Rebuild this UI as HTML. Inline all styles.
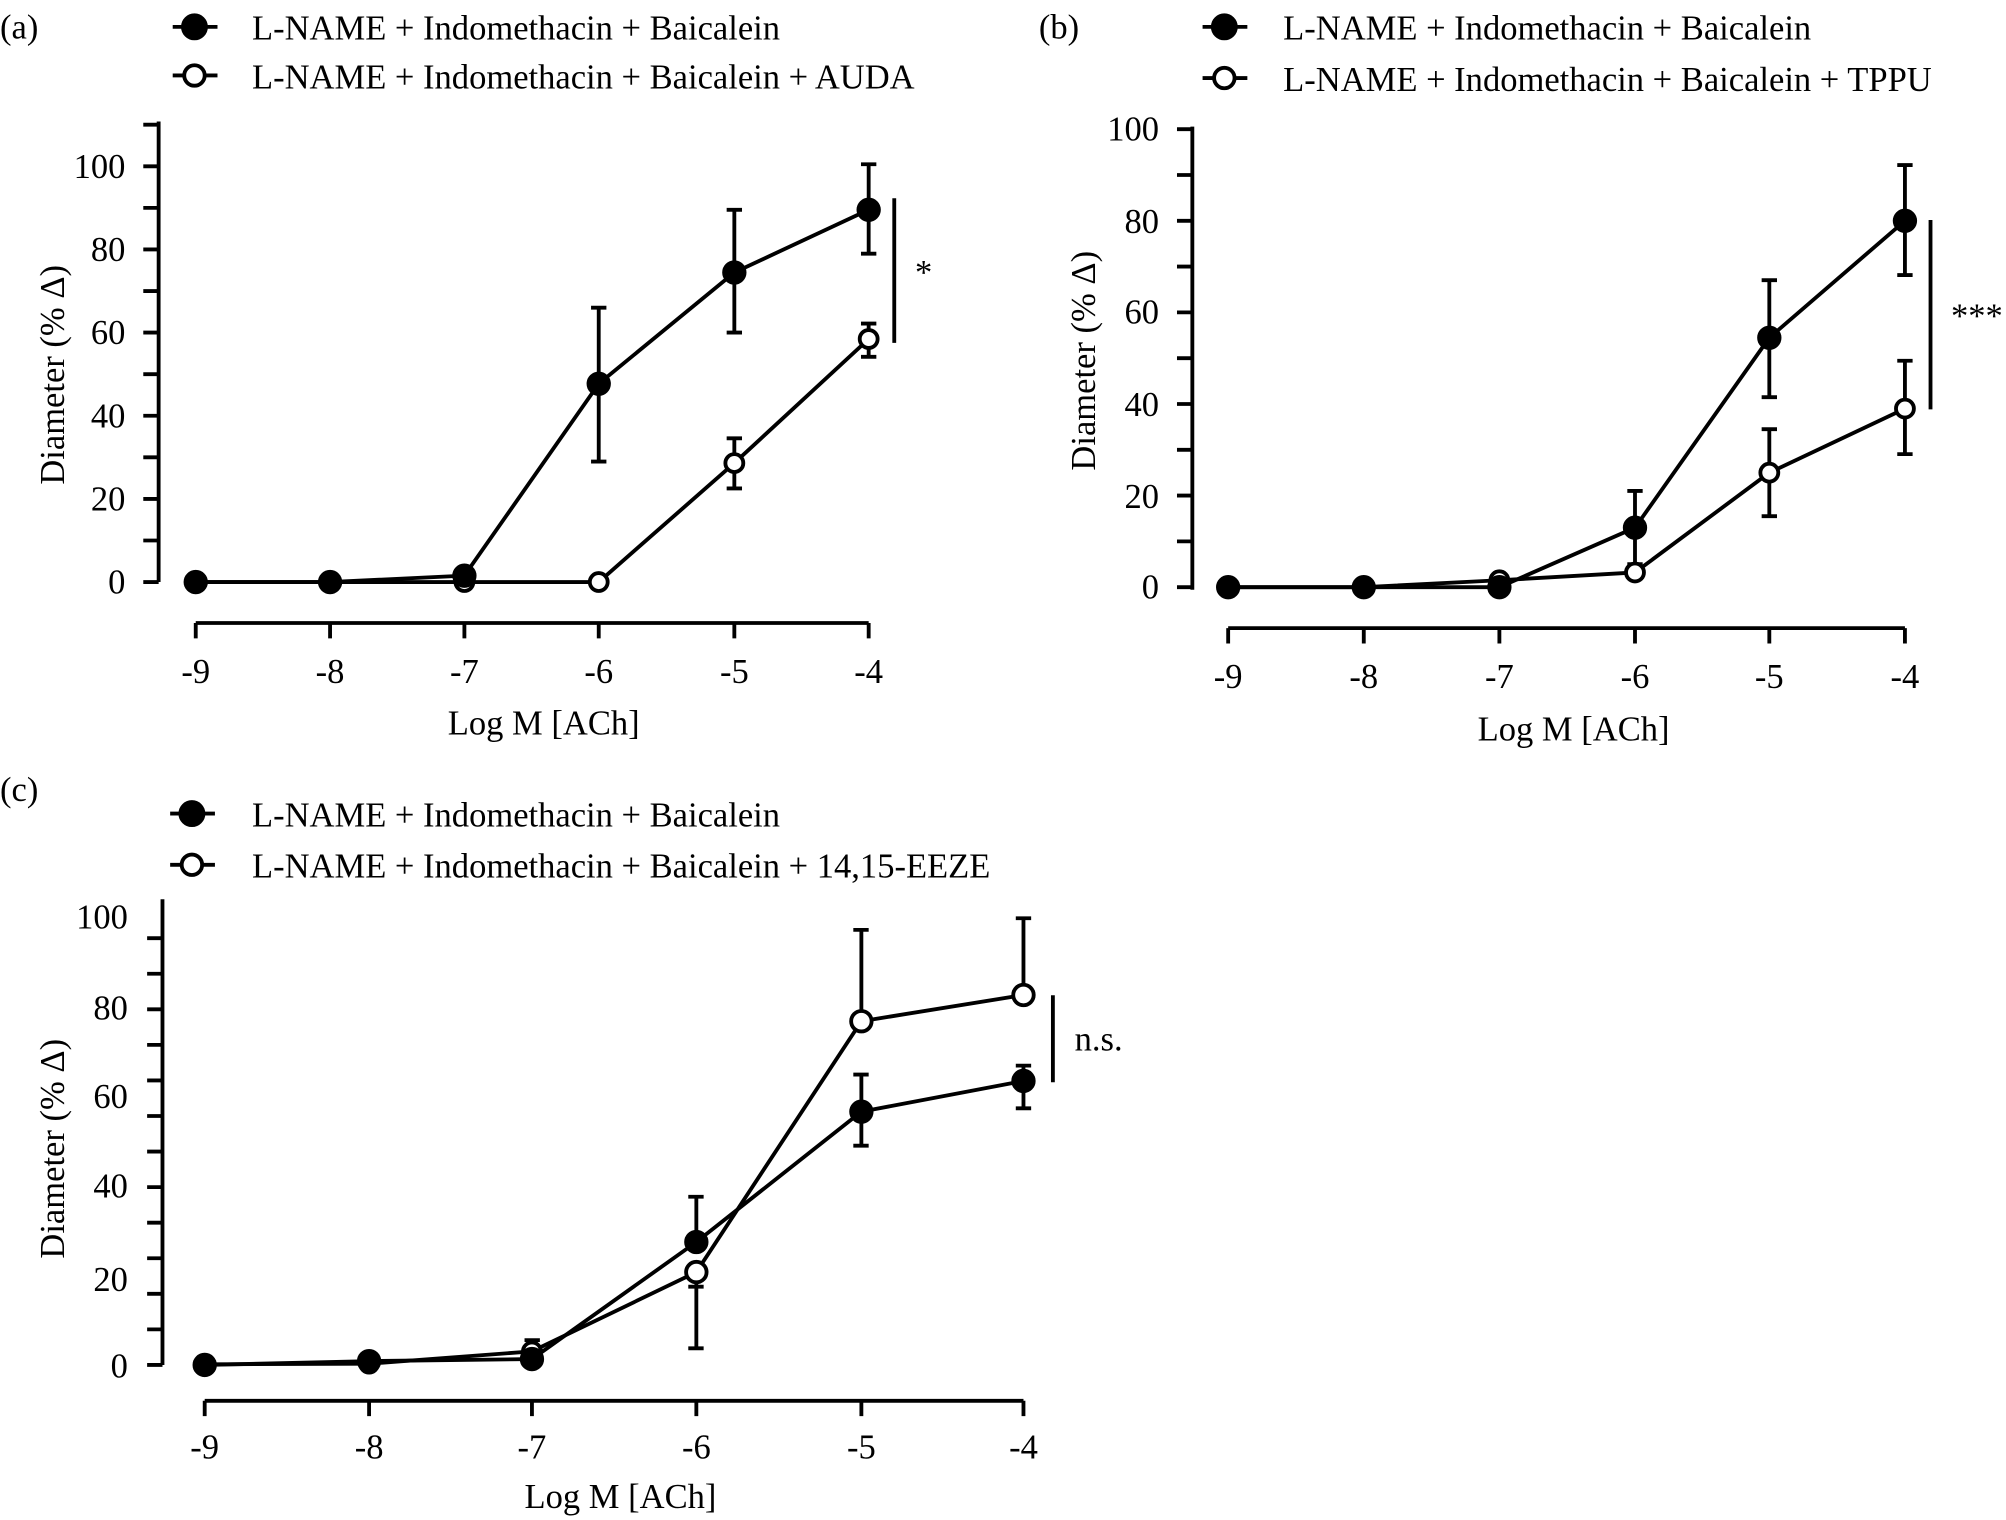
<!DOCTYPE html>
<html><head><meta charset="utf-8"><style>
html,body{margin:0;padding:0;background:#fff}
svg{display:block}
text{font-family:"Liberation Serif",serif;fill:#000}
</style></head><body>
<svg width="2006" height="1520" viewBox="0 0 1568 1188.2" preserveAspectRatio="none" xmlns="http://www.w3.org/2000/svg">
<g font-size="27">
<!-- ===== Panel A ===== -->
<text x="0" y="30">(a)</text>
<g stroke="#000" stroke-width="3">
<line x1="135" y1="21" x2="170" y2="21"/><circle cx="152" cy="21" r="9" fill="#000"/>
<line x1="135" y1="59" x2="170" y2="59"/><circle cx="152" cy="59" r="8" fill="#fff"/>
</g>
<text x="197" y="31">L-NAME + Indomethacin + Baicalein</text>
<text x="197" y="69">L-NAME + Indomethacin + Baicalein + AUDA</text>
<g stroke="#000" stroke-width="3" fill="none">
<path d="M124 95V455M124 455H112M124 422.5H112M124 390H112M124 357.5H112M124 325H112M124 292.5H112M124 260H112M124 227.5H112M124 195H112M124 162.5H112M124 130H112M124 97.5H112"/>
<path d="M153 487H679M153 487V499M258 487V499M363 487V499M468 487V499M574 487V499M679 487V499"/>
<path d="M468 240.5V360.8M462 240.5H474M462 360.8H474M574 164V260M568 164H580M568 260H580M679 128.4V198.3M673 128.4H685M673 198.3H685"/>
<path d="M574 342.6V381.8M568 342.6H580M568 381.8H580M679 252.9V278.9M673 252.9H685M673 278.9H685"/>
<polyline points="153,455 258,455 363,450 468,300 574,213 679,164"/>
<polyline points="153,455 258,455 363,455 468,455 574,362 679,265"/>
<path d="M699 155V268"/>
</g>
<g stroke="#000" stroke-width="3">
<circle cx="363" cy="455" r="7" fill="#fff"/><circle cx="468" cy="455" r="7" fill="#fff"/>
<circle cx="574" cy="362" r="7" fill="#fff"/><circle cx="679" cy="265" r="7" fill="#fff"/>
<circle cx="153" cy="455" r="8" fill="#000"/><circle cx="258" cy="455" r="8" fill="#000"/>
<circle cx="363" cy="450" r="8" fill="#000"/><circle cx="468" cy="300" r="8" fill="#000"/>
<circle cx="574" cy="213" r="8" fill="#000"/><circle cx="679" cy="164" r="8" fill="#000"/>
</g>
<text x="722" y="222" text-anchor="middle">*</text>
<g text-anchor="end">
<text x="98" y="464">0</text><text x="98" y="399">20</text><text x="98" y="334">40</text>
<text x="98" y="269">60</text><text x="98" y="204">80</text><text x="98" y="139">100</text>
</g>
<g text-anchor="middle">
<text x="153" y="534">-9</text><text x="258" y="534">-8</text><text x="363" y="534">-7</text>
<text x="468" y="534">-6</text><text x="574" y="534">-5</text><text x="679" y="534">-4</text>
<text x="425" y="574">Log M [ACh]</text>
<text transform="translate(50 293) rotate(-90)">Diameter (% Δ)</text>
</g>

<!-- ===== Panel B ===== -->
<text x="812" y="30">(b)</text>
<g stroke="#000" stroke-width="3">
<line x1="940" y1="21" x2="975" y2="21"/><circle cx="957" cy="21" r="9" fill="#000"/>
<line x1="940" y1="61" x2="975" y2="61"/><circle cx="957" cy="61" r="8" fill="#fff"/>
</g>
<text x="1003" y="31">L-NAME + Indomethacin + Baicalein</text>
<text x="1003" y="71">L-NAME + Indomethacin + Baicalein + TPPU</text>
<g stroke="#000" stroke-width="3" fill="none">
<path d="M932 99V461M932 459H920M932 423.2H920M932 387.4H920M932 351.6H920M932 315.8H920M932 280H920M932 244.2H920M932 208.4H920M932 172.6H920M932 136.8H920M932 101H920"/>
<path d="M960 491H1489M960 491V503M1066 491V503M1172 491V503M1278 491V503M1383 491V503M1489 491V503"/>
<path d="M1278 441V383.8M1272 383.8H1284M1383 264V219M1377 219H1389M1383 264V310.5M1377 310.5H1389M1489 172.6V129M1483 129H1495M1489 172.6V215M1483 215H1495"/>
<path d="M1278 447.5V441M1278 447.5V452M1272 441H1284M1272 452H1284M1383 369.5V335.5M1377 335.5H1389M1383 369.5V403.5M1377 403.5H1389M1489 319.4V282M1483 282H1495M1489 319.4V355M1483 355H1495"/>
<polyline points="960,459 1066,459 1172,459 1278,412.5 1383,264 1489,172.6"/>
<polyline points="960,459 1066,459 1172,453.6 1278,447.5 1383,369.5 1489,319.4"/>
<path d="M1509 172V320"/>
</g>
<g stroke="#000" stroke-width="3">
<circle cx="1172" cy="453.6" r="7" fill="#fff"/><circle cx="1278" cy="447.5" r="7" fill="#fff"/>
<circle cx="1383" cy="369.5" r="7" fill="#fff"/><circle cx="1489" cy="319.4" r="7" fill="#fff"/>
<circle cx="960" cy="459" r="8" fill="#000"/><circle cx="1066" cy="459" r="8" fill="#000"/>
<circle cx="1172" cy="459" r="8" fill="#000"/><circle cx="1278" cy="412.5" r="8" fill="#000"/>
<circle cx="1383" cy="264" r="8" fill="#000"/><circle cx="1489" cy="172.6" r="8" fill="#000"/>
</g>
<text x="1525" y="256">***</text>
<g text-anchor="end">
<text x="906" y="468">0</text><text x="906" y="397">20</text><text x="906" y="325">40</text>
<text x="906" y="253">60</text><text x="906" y="182">80</text><text x="906" y="110">100</text>
</g>
<g text-anchor="middle">
<text x="960" y="538">-9</text><text x="1066" y="538">-8</text><text x="1172" y="538">-7</text>
<text x="1278" y="538">-6</text><text x="1383" y="538">-5</text><text x="1489" y="538">-4</text>
<text x="1230" y="579">Log M [ACh]</text>
<text transform="translate(856 282) rotate(-90)">Diameter (% Δ)</text>
</g>

<!-- ===== Panel C ===== -->
<text x="0" y="626">(c)</text>
<g stroke="#000" stroke-width="3">
<line x1="133" y1="636" x2="168" y2="636"/><circle cx="150" cy="636" r="9" fill="#000"/>
<line x1="133" y1="676" x2="168" y2="676"/><circle cx="150" cy="676" r="8" fill="#fff"/>
</g>
<text x="197" y="646">L-NAME + Indomethacin + Baicalein</text>
<text x="197" y="686">L-NAME + Indomethacin + Baicalein + 14,15-EEZE</text>
<g stroke="#000" stroke-width="3" fill="none">
<path d="M127 703V1067M127 1067H115M127 1039.2H115M127 1011.4H115M127 983.6H115M127 955.8H115M127 928H115M127 900.2H115M127 872.4H115M127 844.6H115M127 816.8H115M127 789H115M127 761.2H115M127 733.4H115"/>
<path d="M160 1095H800M160 1095V1107M288.5 1095V1107M415.8 1095V1107M544.3 1095V1107M673.3 1095V1107M800 1095V1107"/>
<path d="M544.3 970.9V935.5M538 935.5H550M673.3 869V840M667 840H679M673.3 869V895.6M667 895.6H679M800 845V833M794 833H806M800 845V866.4M794 866.4H806"/>
<path d="M415.8 1056.4V1047.6M410 1047.6H422M544.3 994.4V1054M538 1054H550M538 1005.8H550M673.3 798.3V726.9M667 726.9H679M800 777.8V717.8M794 717.8H806"/>
<polyline points="160,1067 288.5,1064 415.8,1062.4 544.3,970.9 673.3,869 800,845"/>
<polyline points="160,1066.5 288.5,1066 415.8,1056.4 544.3,994.4 673.3,798.3 800,777.8"/>
<path d="M823 778V846"/>
</g>
<g stroke="#000" stroke-width="3">
<circle cx="160" cy="1066.5" r="7" fill="#fff"/><circle cx="288.5" cy="1066" r="7" fill="#fff"/>
<circle cx="415.8" cy="1056.4" r="7" fill="#fff"/><circle cx="544.3" cy="994.4" r="8" fill="#fff"/>
<circle cx="673.3" cy="798.3" r="8" fill="#fff"/><circle cx="800" cy="777.8" r="8" fill="#fff"/>
<circle cx="160" cy="1067" r="8" fill="#000"/><circle cx="288.5" cy="1064" r="8" fill="#000"/>
<circle cx="415.8" cy="1062.4" r="8" fill="#000"/><circle cx="544.3" cy="970.9" r="8" fill="#000"/>
<circle cx="673.3" cy="869" r="8" fill="#000"/><circle cx="800" cy="845" r="8" fill="#000"/>
</g>
<text x="840" y="821">n.s.</text>
<g text-anchor="end">
<text x="100" y="1077">0</text><text x="100" y="1009">20</text><text x="100" y="936">40</text>
<text x="100" y="866">60</text><text x="100" y="797">80</text><text x="100" y="726">100</text>
</g>
<g text-anchor="middle">
<text x="160" y="1140">-9</text><text x="288.5" y="1140">-8</text><text x="415.8" y="1140">-7</text>
<text x="544.3" y="1140">-6</text><text x="673.3" y="1140">-5</text><text x="800" y="1140">-4</text>
<text x="485" y="1179">Log M [ACh]</text>
<text transform="translate(50 898) rotate(-90)">Diameter (% Δ)</text>
</g>
</g>
</svg>
</body></html>
